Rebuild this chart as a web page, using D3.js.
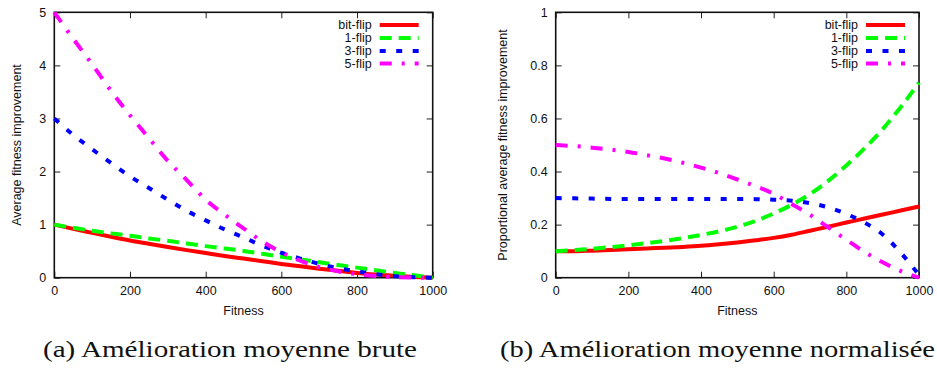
<!DOCTYPE html>
<html><head><meta charset="utf-8">
<script src="https://cdn.jsdelivr.net/npm/d3@7"></script>
<style>body{margin:0;background:#fff} svg{display:block}</style>
</head><body>
<svg id="c" width="937" height="370"></svg>
<script>
// ---- data ----
const fitness = [0,50,100,150,200,250,300,350,400,450,500,550,600,650,700,750,800,850,900,950,1000];
const seriesNames = ["bit-flip","1-flip","3-flip","5-flip"];
// (a) raw average improvement
const rawBitFlip = [1.0,0.92,0.845,0.77,0.70,0.64,0.58,0.52,0.465,0.41,0.36,0.31,0.26,0.215,0.17,0.13,0.09,0.06,0.035,0.015,0];
const raw1Flip   = [1.0,0.94,0.885,0.835,0.79,0.74,0.695,0.645,0.595,0.55,0.505,0.45,0.395,0.345,0.29,0.24,0.19,0.14,0.09,0.045,0];
const raw3Flip   = [3.0,2.69,2.42,2.16,1.91,1.69,1.47,1.26,1.08,0.91,0.76,0.6,0.47,0.36,0.26,0.18,0.12,0.065,0.028,0.008,0];
const raw5Flip   = [5.0,4.5,4.02,3.52,3.06,2.63,2.2,1.84,1.47,1.19,0.93,0.68,0.48,0.32,0.2,0.12,0.065,0.03,0.012,0.003,0];
// (b) normalised average improvement
const normBitFlip = [0.1,0.1,0.102,0.104,0.107,0.11,0.113,0.116,0.12,0.126,0.133,0.141,0.15,0.162,0.177,0.192,0.208,0.223,0.238,0.253,0.268];
const norm1Flip   = [0.1,0.104,0.109,0.115,0.122,0.13,0.139,0.149,0.161,0.175,0.192,0.214,0.242,0.275,0.315,0.365,0.423,0.487,0.56,0.643,0.735];
const norm3Flip   = [0.3,0.299,0.298,0.297,0.297,0.297,0.297,0.297,0.297,0.297,0.297,0.296,0.294,0.29,0.281,0.265,0.24,0.208,0.163,0.094,0.01];
const norm5Flip   = [0.5,0.496,0.49,0.483,0.474,0.462,0.449,0.433,0.415,0.394,0.37,0.345,0.316,0.277,0.237,0.19,0.143,0.097,0.058,0.025,0.0];
const xTicks = [0,200,400,600,800,1000];
const yTicksA = [0,1,2,3,4,5];
const yTicksB = [0,0.2,0.4,0.6,0.8,1];
const captions = ["(a) Amélioration moyenne brute","(b) Amélioration moyenne normalisée"];

// ---- styles ----
const colors = ["#ff0000","#00ff00","#0000ff","#ff00ff"];
const dashes = [null,"12,7","6,10.5","12,10,3,10"];
const font = "'Liberation Sans', Arial, sans-serif";

const svg = d3.select("#c");

function panel(cfg){
  const {left,right,top,bottom,yMax,yTicks,series,yTitle,titleX,caption,capX,capW} = cfg;
  const x = d3.scaleLinear().domain([0,1000]).range([left,right]);
  const y = d3.scaleLinear().domain([0,yMax]).range([bottom,top]);
  const g = svg.append("g");

  const fmtY = yMax===1 ? (d=> d===0||d===1 ? String(d) : d3.format(".1f")(d)) : d3.format("d");
  const ax = [
    [d3.axisBottom(x).tickValues(xTicks).tickSize(-6).tickPadding(8).tickFormat(d3.format("d")), `translate(0,${bottom})`],
    [d3.axisTop(x).tickValues(xTicks).tickSize(-6).tickFormat(""), `translate(0,${top})`],
    [d3.axisLeft(y).tickValues(yTicks).tickSize(-6).tickPadding(8).tickFormat(fmtY), `translate(${left},0)`],
    [d3.axisRight(y).tickValues(yTicks).tickSize(-6).tickFormat(""), `translate(${right},0)`]
  ];
  ax.forEach(([a,t])=>{
    const s = g.append("g").attr("transform",t).call(a);
    s.select(".domain").remove();
    s.selectAll("line").attr("stroke","#222").attr("stroke-width",1);
    s.selectAll("text").attr("font-family",font).attr("font-size",12.5).attr("fill","#111");
  });

  g.append("rect").attr("x",left).attr("y",top).attr("width",right-left).attr("height",bottom-top)
    .attr("fill","none").attr("stroke","#111").attr("stroke-width",1.6);

  const line = d3.line().x((d,i)=>x(fitness[i])).y(d=>y(d)).curve(d3.curveMonotoneX);
  series.forEach((vals,k)=>{
    g.append("path").datum(vals).attr("d",line)
      .attr("fill","none").attr("stroke",colors[k]).attr("stroke-width",4)
      .attr("stroke-dasharray",dashes[k]);
  });

  const rowY = [25,38,51,63.5];
  seriesNames.forEach((n,k)=>{
    g.append("text").attr("x",right-61).attr("y",rowY[k]).attr("dy","0.35em")
      .attr("text-anchor","end").attr("font-family",font).attr("font-size",12.5).attr("fill","#111").text(n);
    g.append("line").attr("x1",right-53).attr("x2",right-14).attr("y1",rowY[k]).attr("y2",rowY[k])
      .attr("stroke",colors[k]).attr("stroke-width",4).attr("stroke-dasharray",dashes[k]);
  });

  g.append("text").attr("x",(left+right)/2).attr("y",315).attr("text-anchor","middle")
    .attr("font-family",font).attr("font-size",12.5).attr("fill","#111").text("Fitness");
  g.append("text").attr("transform",`translate(${titleX},${(top+bottom)/2}) rotate(-90)`)
    .attr("text-anchor","middle").attr("dy","0.35em")
    .attr("font-family",font).attr("font-size",12.5).attr("fill","#111").text(yTitle);

  svg.append("text").attr("x",capX).attr("y",357)
    .attr("font-family","'Liberation Serif', 'Times New Roman', serif").attr("font-size",24).attr("fill","#111")
    .attr("textLength",capW).attr("lengthAdjust","spacingAndGlyphs").text(caption);
}

panel({left:54.3,right:432.7,top:12.3,bottom:277.7,yMax:5,yTicks:yTicksA,
  series:[rawBitFlip,raw1Flip,raw3Flip,raw5Flip],yTitle:"Average fitness improvement",titleX:17,
  caption:captions[0],capX:43,capW:374});
panel({left:555.7,right:919,top:12.3,bottom:277.7,yMax:1,yTicks:yTicksB,
  series:[normBitFlip,norm1Flip,norm3Flip,norm5Flip],yTitle:"Proportional average fitness improvement",titleX:503,
  caption:captions[1],capX:500,capW:435});
</script>
</body></html>
